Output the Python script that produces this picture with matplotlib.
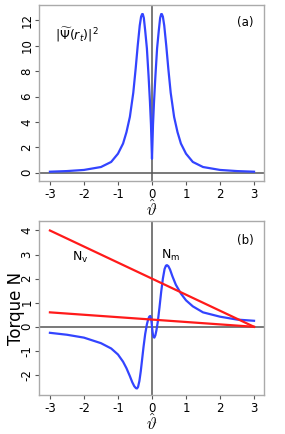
import matplotlib
matplotlib.use("Agg")
import matplotlib.pyplot as plt

plt.rcParams["axes.unicode_minus"] = False

# panel (a): |psi(r_t)|^2
psi_x = [-3.0, -2.5, -2.0, -1.5, -1.2, -1.0, -0.85, -0.75, -0.65, -0.55, -0.48, -0.42, -0.36,
         -0.32, -0.29, -0.27, -0.24, -0.2, -0.15, -0.1, -0.06, -0.03, -0.01, 0.0,
         0.01, 0.03, 0.06, 0.1, 0.15, 0.2, 0.24, 0.27, 0.29, 0.32, 0.36, 0.42, 0.48, 0.55,
         0.65, 0.75, 0.85, 1.0, 1.2, 1.5, 2.0, 2.5, 3.0]
psi_y = [0.08, 0.13, 0.22, 0.45, 0.85, 1.5, 2.3, 3.2, 4.4, 6.3, 8.2, 10.0, 11.6,
         12.3, 12.5, 12.5, 12.2, 11.2, 9.8, 7.6, 5.6, 3.8, 2.0, 1.1,
         2.0, 3.8, 5.6, 7.6, 9.8, 11.2, 12.2, 12.5, 12.5, 12.3, 11.6, 10.0, 8.2, 6.3,
         4.4, 3.2, 2.3, 1.5, 0.85, 0.45, 0.22, 0.13, 0.08]

# panel (b): torque N_m (blue) and the two N_v lines (red)
nm_x = [-3.0, -2.5, -2.0, -1.5, -1.2, -1.0, -0.85, -0.75, -0.65, -0.58, -0.52, -0.47, -0.44,
        -0.41, -0.37, -0.33, -0.29, -0.25, -0.2, -0.15, -0.11, -0.08, -0.05, -0.03, -0.01,
        0.0, 0.02, 0.04, 0.07, 0.1, 0.13, 0.17, 0.22, 0.27, 0.32, 0.37, 0.41, 0.44, 0.48,
        0.53, 0.6, 0.7, 0.85, 1.0, 1.2, 1.5, 2.0, 2.5, 3.0]
nm_y = [-0.25, -0.33, -0.45, -0.68, -0.9, -1.15, -1.45, -1.72, -2.05, -2.3, -2.47, -2.55, -2.56,
        -2.5, -2.25, -1.85, -1.35, -0.85, -0.3, 0.1, 0.32, 0.42, 0.45, 0.38, 0.15,
        0.0, -0.25, -0.42, -0.45, -0.35, -0.15, 0.2, 0.8, 1.45, 2.0, 2.4, 2.54, 2.56, 2.52,
        2.38, 2.1, 1.75, 1.38, 1.1, 0.85, 0.6, 0.42, 0.3, 0.25]

nv1_x = [-3.0, 3.0]
nv1_y = [4.0, 0.0]
nv2_x = [-3.0, 3.0]
nv2_y = [0.6, 0.0]

x_ticks = [-3, -2, -1, 0, 1, 2, 3]
y1_ticks = [0, 2, 4, 6, 8, 10, 12]
y2_ticks = [-2, -1, 0, 1, 2, 3, 4]

blue = "#3344ff"
red = "#ff1a1a"
frame = "#aaaaaa"

fig = plt.figure(figsize=(2.85, 4.34), dpi=100)
ax1 = fig.add_axes([0.137, 0.583, 0.789, 0.405])
ax2 = fig.add_axes([0.137, 0.09, 0.789, 0.40])


def style(ax, yticks):
    for sp in ax.spines.values():
        sp.set_color(frame)
        sp.set_linewidth(1.0)
    ax.set_xticks(x_ticks)
    ax.set_yticks(yticks)
    ax.tick_params(colors="#555555", labelcolor="black", labelsize=8.5, length=3, width=0.8, pad=2)
    # vertical y tick labels, R style
    ax.tick_params(axis="y", labelleft=False)
    for t in yticks:
        ax.text(-0.025, t, str(t), rotation=90, ha="right", va="center",
                fontsize=8.5, transform=ax.get_yaxis_transform(), clip_on=False)
    ax.axhline(0, color="#555555", lw=1.1, zorder=1)
    ax.axvline(0, color="#555555", lw=1.1, zorder=1)
    ax.set_xlabel(r"$\hat{\vartheta}$", fontsize=12, labelpad=-1, math_fontfamily="cm")


ax1.plot(psi_x, psi_y, color=blue, lw=1.6, zorder=3)
ax1.set_xlim(-3.32, 3.29)
ax1.set_ylim(-0.65, 13.2)
style(ax1, y1_ticks)
ax1.text(-2.85, 10.5, r"$|\widetilde{\Psi}(r_t)|^2$", fontsize=9)
ax1.text(2.75, 11.8, "(a)", fontsize=8.5, ha="center", va="center")

ax2.plot(nm_x, nm_y, color=blue, lw=1.6, zorder=3)
ax2.plot(nv1_x, nv1_y, color=red, lw=1.6, zorder=4)
ax2.plot(nv2_x, nv2_y, color=red, lw=1.6, zorder=4)
ax2.set_xlim(-3.32, 3.29)
ax2.set_ylim(-2.83, 4.38)
style(ax2, y2_ticks)
ax2.set_ylabel("Torque N", fontsize=12, labelpad=7)
ax2.text(-2.1, 2.9, r"N$_\mathregular{v}$", fontsize=9, ha="center", va="center")
ax2.text(0.55, 2.95, r"N$_\mathregular{m}$", fontsize=9, ha="center", va="center")
ax2.text(2.75, 3.6, "(b)", fontsize=8.5, ha="center", va="center")

fig.savefig("out.png", dpi=100)
